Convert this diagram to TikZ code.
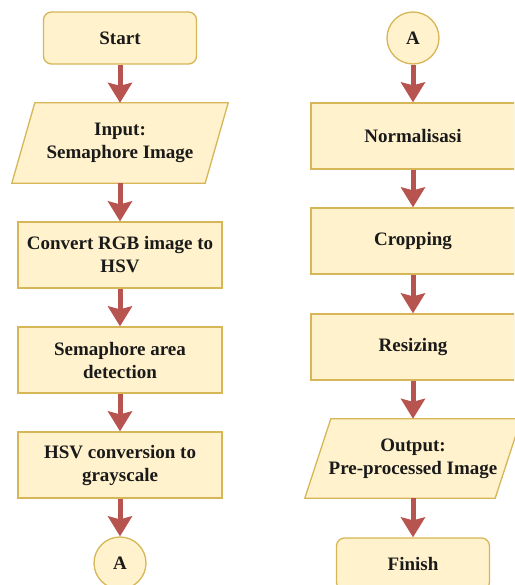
\documentclass[tikz,border=0pt]{standalone}
\usepackage{fontspec}
\setmainfont{Liberation Serif}
\usetikzlibrary{arrows.meta,backgrounds}
\definecolor{boxfill}{HTML}{FFF2CC}
\definecolor{boxline}{HTML}{D6B656}
\definecolor{arrowred}{HTML}{B85450}
\definecolor{txt}{HTML}{1A1A1A}
\tikzset{
  base/.style={font=\fontsize{19}{23}\selectfont\bfseries, text=txt, align=center, inner sep=0pt},
  procbox/.style={base, draw=boxline, fill=boxfill, line width=1.3pt, minimum width=204pt, minimum height=66pt},
  termbox/.style={base, draw=boxline, fill=boxfill, line width=1.3pt, rounded corners=8pt, minimum width=153pt, minimum height=52pt},
  connbox/.style={base, circle, draw=boxline, fill=boxfill, line width=1.3pt, minimum size=52pt},
  iobox/.style={base, minimum width=216pt, minimum height=80pt},
  iodraw/.style={draw=boxline, fill=boxfill, line width=1.3pt},
  flow/.style={draw=arrowred, line width=5pt, -{Stealth[length=20pt,width=24pt,inset=3pt]}}
}
\begin{document}
\begin{tikzpicture}[x=1pt,y=-1pt]
\useasboundingbox (0,0) rectangle (514,585);
\clip (0,0) rectangle (514,585);
% left column
\node[termbox] (start) at (120,38) {Start};
\node[iobox] (input) at (120,143) {Input:\\Semaphore Image};
\node[procbox] (rgb) at (120,255) {Convert RGB image to\\HSV};
\node[procbox] (detect) at (120,360) {Semaphore area\\detection};
\node[procbox] (gray) at (120,465) {HSV conversion to\\grayscale};
\node[connbox] (conA) at (120,563) {A};
% right column
\node[connbox] (conB) at (413,38) {A};
\node[procbox] (norm) at (413,136) {Normalisasi};
\node[procbox] (crop) at (413,241) {Cropping};
\node[procbox] (resize) at (413,347) {Resizing};
\node[iobox, minimum height=79pt] (output) at (413,458.5) {Output:\\Pre-processed Image};
\node[termbox] (finish) at (413,564) {Finish};
\begin{scope}[on background layer]
  \draw[iodraw] ([xshift=23pt]input.north west) -- (input.north east) -- ([xshift=-23pt]input.south east) -- (input.south west) -- cycle;
  \draw[iodraw] ([xshift=26pt]output.north west) -- (output.north east) -- ([xshift=-26pt]output.south east) -- (output.south west) -- cycle;
\end{scope}
% connectors
\draw[flow] (start.south) -- (input.north);
\draw[flow] (input.south) -- (rgb.north);
\draw[flow] (rgb.south) -- (detect.north);
\draw[flow] (detect.south) -- (gray.north);
\draw[flow] (gray.south) -- (conA.north);
\draw[flow] (conB.south) -- (norm.north);
\draw[flow] (norm.south) -- (crop.north);
\draw[flow] (crop.south) -- (resize.north);
\draw[flow] (resize.south) -- (output.north);
\draw[flow] (output.south) -- (finish.north);
\end{tikzpicture}
\end{document}
